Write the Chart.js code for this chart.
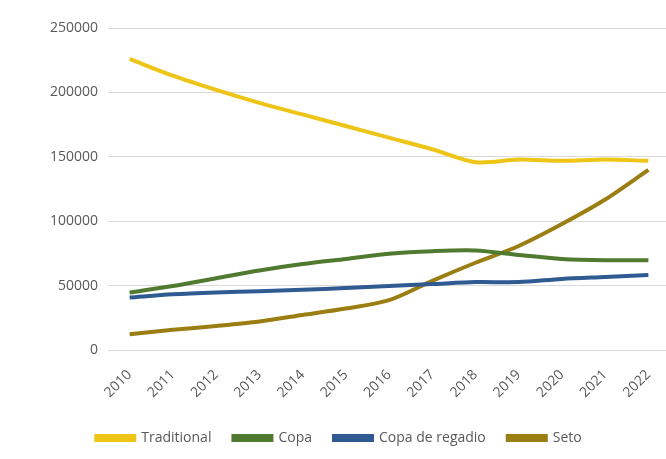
<!DOCTYPE html>
<html lang="es">
<head>
    <meta charset="UTF-8">
    <title>Superficie por sistema</title>
    <script src="https://cdn.jsdelivr.net/npm/chart.js"></script>
    <style>
        html, body {
            margin: 0;
            padding: 0;
            background: #ffffff;
            overflow: hidden;
        }

        .chart-box {
            width: 670px;
            height: 459px;
        }
    </style>
</head>
<body>
    <div class="chart-box">
        <canvas id="lineChart"></canvas>
    </div>

    <script>
        // años del eje X
        const years = ['2010', '2011', '2012', '2013', '2014', '2015', '2016',
                       '2017', '2018', '2019', '2020', '2021', '2022'];

        // series
        const traditional = [226000, 213000, 202000, 192000, 183000, 174000, 165000,
                             156000, 146000, 148000, 147000, 148000, 147000];
        const copa = [45000, 50000, 56000, 62000, 67000, 71000, 75000,
                      77000, 77500, 74000, 71000, 70000, 70000];
        const copaRegadio = [41000, 43500, 45000, 46000, 47000, 48500, 50000,
                             51500, 53000, 53000, 55500, 57000, 58500];
        const seto = [12500, 16000, 19000, 22500, 27500, 32500, 39000,
                      54000, 68000, 81000, 98000, 117000, 140000];

        const yTicks = [0, 50000, 100000, 150000, 200000, 250000];

        const txt = '#595959';
        const font = { family: 'Open Sans', size: 14 };

        function serie(label, data, color) {
            return {
                label: label,
                data: data,
                borderColor: color,
                backgroundColor: color,
                borderWidth: 4,
                pointRadius: 0,
                tension: 0.3,
                fill: false
            };
        }

        new Chart(document.getElementById('lineChart'), {
            type: 'line',
            data: {
                labels: years,
                datasets: [
                    serie('Traditional', traditional, '#EEC417'),
                    serie('Copa', copa, '#4F7A30'),
                    serie('Copa de regadio', copaRegadio, '#2F5A92'),
                    serie('Seto', seto, '#9A7E12')
                ]
            },
            options: {
                responsive: true,
                maintainAspectRatio: false,
                animation: false,
                layout: {
                    padding: { left: 8, right: 0, top: 28, bottom: 4 }
                },
                plugins: {
                    tooltip: { enabled: false },
                    legend: {
                        position: 'bottom',
                        labels: {
                            color: txt,
                            font: font,
                            boxWidth: 38,
                            boxHeight: 4,
                            padding: 22
                        }
                    }
                },
                scales: {
                    x: {
                        offset: true,
                        grid: { display: false },
                        border: { display: false },
                        ticks: {
                            color: txt,
                            font: font,
                            maxRotation: 45,
                            minRotation: 45,
                            padding: 8
                        }
                    },
                    y: {
                        min: 0,
                        max: 250000,
                        afterFit: function (scale) { scale.width = 100; },
                        afterBuildTicks: function (scale) {
                            scale.ticks = yTicks.map(v => ({ value: v }));
                        },
                        grid: { color: '#d9d9d9', lineWidth: 1, drawTicks: false },
                        border: { display: false },
                        ticks: {
                            color: txt,
                            font: font,
                            padding: 10,
                            callback: v => String(v)
                        }
                    }
                }
            }
        });
    </script>
</body>
</html>
